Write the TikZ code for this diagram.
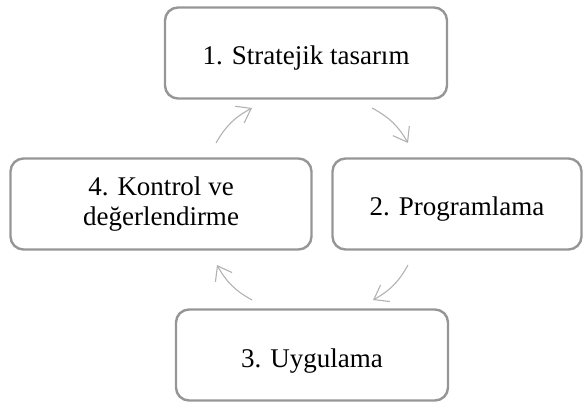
\documentclass[tikz,border=0pt]{standalone}
\usepackage{fontspec}
\setmainfont{Liberation Serif}
\usetikzlibrary{arrows.meta}
\definecolor{boxgray}{RGB}{150,150,150}
\definecolor{arrowgray}{RGB}{178,178,178}
\tikzset{
  stage/.style={draw=boxgray, line width=2.4pt, rounded corners=13pt, align=center,
    font=\fontsize{27}{30}\selectfont, inner sep=0pt, minimum height=91pt},
  oneline/.style={text height=30pt, text depth=6pt},
  cyclearrow/.style={draw=arrowgray, line width=1.1pt,
    -{Straight Barb[length=13pt,width=19pt]}, bend left=16}
}
\begin{document}
\begin{tikzpicture}[x=1pt,y=-1pt]
\useasboundingbox (0,0) rectangle (583,403);
\node[stage, oneline, minimum width=282pt] (tasarim) at (306,53) {1. Stratejik tasarım};
\node[stage, oneline, minimum width=249pt] (program) at (457,204) {2. Programlama};
\node[stage, oneline, minimum width=272pt] (uygulama) at (312,355) {3. Uygulama};
\node[stage, minimum width=301pt] (kontrol) at (161,204) {4. Kontrol ve\\değerlendirme};

\coordinate (ok1a) at (372,108);
\coordinate (ok1b) at (408,143);
\coordinate (ok2a) at (408,265);
\coordinate (ok2b) at (373,300);
\coordinate (ok3a) at (252,300);
\coordinate (ok3b) at (217,265);
\coordinate (ok4a) at (216,143);
\coordinate (ok4b) at (252,108);

\draw[cyclearrow] (ok1a) to (ok1b);
\draw[cyclearrow] (ok2a) to (ok2b);
\draw[cyclearrow] (ok3a) to (ok3b);
\draw[cyclearrow] (ok4a) to (ok4b);
\end{tikzpicture}
\end{document}
